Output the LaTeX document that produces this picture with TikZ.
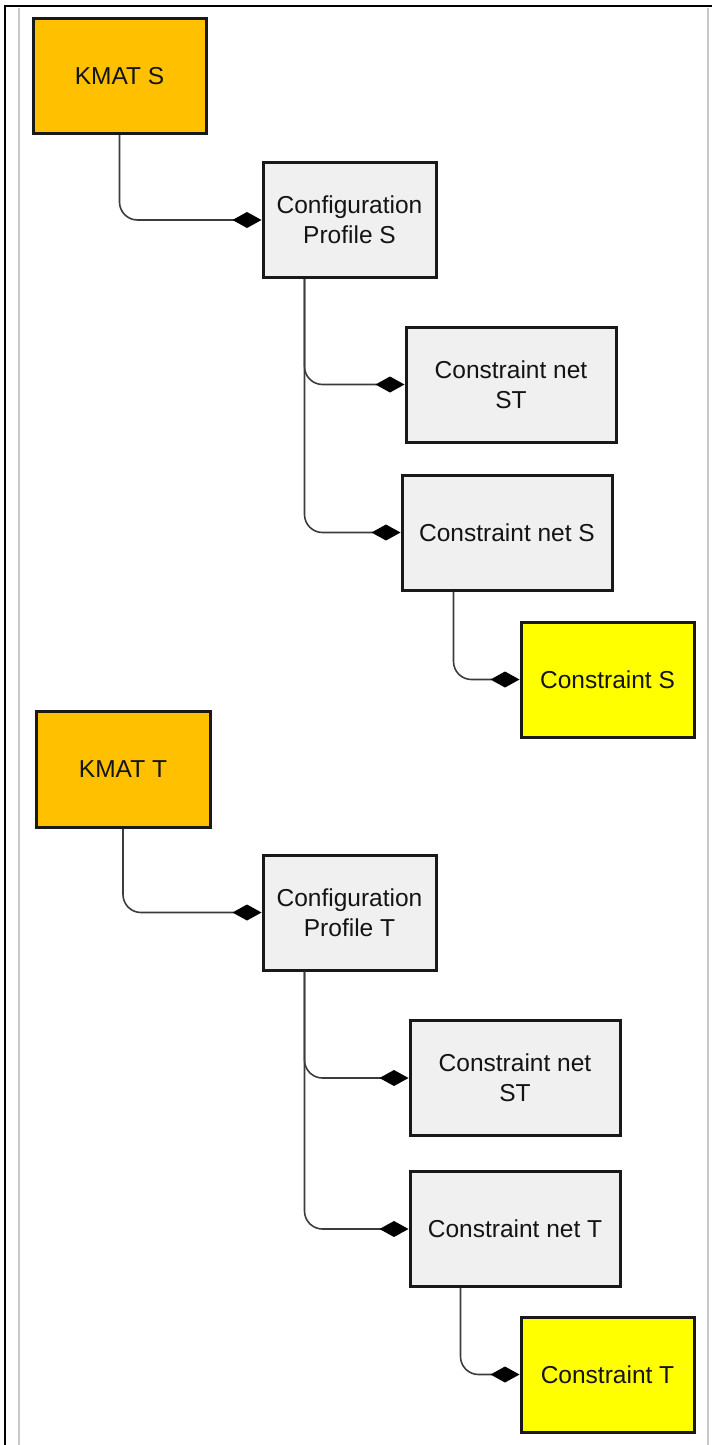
\documentclass[tikz,border=0pt]{standalone}
\usepackage{fontspec}
\setmainfont{Liberation Sans}
\usetikzlibrary{arrows.meta}
\definecolor{kmat}{HTML}{FFC000}
\definecolor{boxgray}{HTML}{F0F0F0}
\definecolor{cons}{HTML}{FFFF00}
\definecolor{linec}{HTML}{3C3C3C}
\definecolor{txt}{HTML}{141414}
\definecolor{frameg}{HTML}{C8C8C8}
\tikzset{
  box/.style={draw=black!90, line width=3pt, minimum width=173pt, minimum height=115pt,
    align=center, text=txt, font=\fontsize{24.5}{30}\selectfont, inner sep=0pt},
  kmatbox/.style={box, fill=kmat},
  graybox/.style={box, fill=boxgray},
  netbox/.style={box, fill=boxgray, minimum width=210pt},
  consbox/.style={box, fill=cons},
  conn/.style={draw=linec, line width=1.6pt, rounded corners=18pt,
    -{Diamond[length=29pt,width=16pt,fill=black,color=black]}},
}
\begin{document}
\begin{tikzpicture}[x=1pt,y=-1pt]
\useasboundingbox (0,0) rectangle (712,1445);
% frame
\draw[frameg, line width=2pt] (19,8) -- (19,1445);
\draw[frameg, line width=2pt] (708,8) -- (708,1445);
\draw[black, line width=2pt] (5,1445) -- (5,6) -- (712,6);

% S tree
\node[kmatbox] (kmatS) at (119.5,76) {KMAT S};
\node[graybox] (cfgS) at (349.5,220) {Configuration\\Profile S};
\node[netbox] (netST1) at (511,384.5) {Constraint net\\ST};
\node[netbox] (netS) at (507,532.5) {Constraint net S};
\node[consbox] (conS) at (607.5,679.5) {Constraint S};

% T tree
\node[kmatbox, minimum width=174pt, minimum height=116pt] (kmatT) at (123,769.5) {KMAT T};
\node[graybox] (cfgT) at (349.5,912.5) {Configuration\\Profile T};
\node[netbox] (netST2) at (515,1078) {Constraint net\\ST};
\node[netbox] (netT) at (515,1229) {Constraint net T};
\node[consbox] (conT) at (607.5,1374.5) {Constraint T};

% connectors
\draw[conn] (kmatS.south) |- (cfgS.west);
\draw[conn] ([xshift=43pt]cfgS.south west) |- (netST1.west);
\draw[conn] ([xshift=43pt]cfgS.south west) |- (netS.west);
\draw[conn] ([xshift=53pt]netS.south west) |- (conS.west);

\draw[conn] (kmatT.south) |- (cfgT.west);
\draw[conn] ([xshift=43pt]cfgT.south west) |- (netST2.west);
\draw[conn] ([xshift=43pt]cfgT.south west) |- (netT.west);
\draw[conn] ([xshift=52pt]netT.south west) |- (conT.west);
\end{tikzpicture}
\end{document}
